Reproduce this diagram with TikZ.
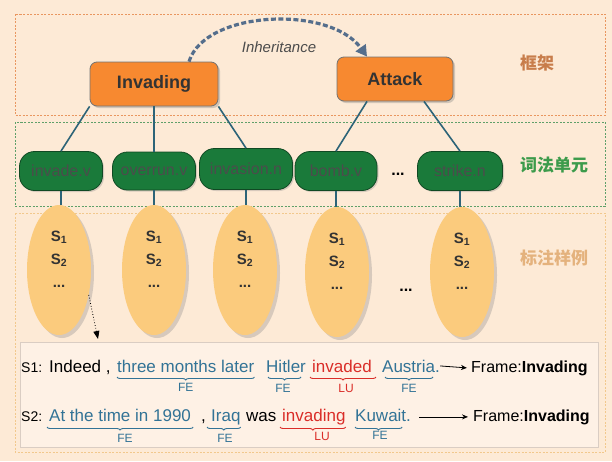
\documentclass[tikz,border=0pt]{standalone}
\usepackage{fontspec}
\setmainfont{Liberation Sans}
\newfontfamily\cjk{Noto Sans CJK SC}
\usetikzlibrary{shapes.geometric,shadows,arrows.meta,decorations.pathreplacing,positioning}

\definecolor{bgpeach}{RGB}{253,234,214}
\definecolor{boxpeach}{RGB}{254,241,229}
\definecolor{boxgray}{RGB}{218,205,195}
\definecolor{frameorange}{RGB}{247,137,48}
\definecolor{frameline}{RGB}{233,150,95}
\definecolor{lugreen}{RGB}{26,122,58}
\definecolor{lulinegreen}{RGB}{95,160,105}
\definecolor{sampleorange}{RGB}{251,203,125}
\definecolor{sampleline}{RGB}{242,200,140}
\definecolor{linkblue}{RGB}{45,100,120}
\definecolor{inhblue}{RGB}{85,110,140}
\definecolor{feblue}{RGB}{50,115,150}
\definecolor{lured}{RGB}{218,45,40}
\definecolor{framebrown}{RGB}{200,125,75}
\definecolor{lulabgreen}{RGB}{60,155,75}
\definecolor{samplabtan}{RGB}{228,178,125}

\tikzset{
  framebox/.style={draw=black!55, line width=0.8pt, fill=frameorange, rounded corners=7pt,
    inner sep=0pt, font=\fontsize{18}{20}\selectfont\bfseries, text=black!80,
    drop shadow={shadow xshift=2pt, shadow yshift=-2pt, opacity=0.35}},
  lubox/.style={draw=lugreen!60!black, line width=0.8pt, fill=lugreen, rounded corners=15pt,
    inner sep=0pt, font=\fontsize{16}{18}\selectfont, text=black!70,
    drop shadow={shadow xshift=1.5pt, shadow yshift=-1.5pt, opacity=0.3}},
  sample/.style={ellipse, fill=sampleorange, minimum width=64pt, minimum height=130pt, inner sep=0pt,
    drop shadow={shadow xshift=3pt, shadow yshift=-3pt, opacity=0.3}},
  samptext/.style={align=center, inner sep=0pt, font=\fontsize{15}{23}\selectfont\bfseries, text=black!80},
  link/.style={draw=linkblue, line width=1.6pt},
  layer/.style={anchor=west, inner sep=0pt, font=\cjk\fontsize{17}{20}\selectfont\bfseries},
  sent/.style={anchor=base west, inner sep=0pt, font=\fontsize{17}{20}\selectfont},
  febrace/.style={draw=feblue, line width=0.9pt, decorate, decoration={brace, mirror, amplitude=3pt}},
  lubrace/.style={draw=lured, line width=0.9pt, decorate, decoration={brace, mirror, amplitude=3pt}},
  felab/.style={inner sep=0pt, font=\fontsize{12}{13}\selectfont, text=feblue},
  lulab/.style={inner sep=0pt, font=\fontsize{12}{13}\selectfont, text=lured},
}

\begin{document}
\begin{tikzpicture}[x=1pt,y=-1pt]
\useasboundingbox (0,0) rectangle (612,461);
\fill[bgpeach] (0,0) rectangle (612,461);

% layers
\draw[frameline, line width=0.7pt, dash pattern=on 2pt off 1.5pt] (15,14) rectangle (605,115);
\draw[lulinegreen, line width=0.8pt, dash pattern=on 2pt off 1.5pt] (15,122) rectangle (605,206);
\draw[sampleline, line width=0.7pt, dash pattern=on 2pt off 1.5pt] (15,213) rectangle (605,452);
\draw[fill=boxpeach, draw=boxgray, line width=0.6pt] (20,342) rectangle (598,447);

\node[layer, text=framebrown] (lay1) at (520,63) {框架};
\node[layer, text=lulabgreen] (lay2) at (520,165) {词法单元};
\node[layer, text=samplabtan] (lay3) at (520,258) {标注样例};

% frames
\node[framebox, minimum width=128pt, minimum height=44pt] (inv) at (154,84) {Invading};
\node[framebox, minimum width=116pt, minimum height=44pt] (atk) at (395,79) {Attack};

\coordinate (inhs) at ([xshift=35pt]inv.north);
\coordinate (inhe) at ([xshift=-28pt]atk.north);
\draw[inhblue, line width=3.2pt, dash pattern=on 5pt off 2.5pt, -{Triangle[length=11pt,width=12pt]}]
  (inhs) .. controls (205,10) and (330,5) .. (inhe);
\node[font=\fontsize{15}{17}\selectfont\itshape, text=black!70] (inhlab) at (279,47) {Inheritance};

% lexical units
\node[lubox, minimum width=83pt, minimum height=39pt] (lu1) at (61,171) {invade.v};
\node[lubox, minimum width=83pt, minimum height=38pt] (lu2) at (154,171) {overrun.v};
\node[lubox, minimum width=93pt, minimum height=41pt] (lu3) at (246,169) {invasion.n};
\node[lubox, minimum width=82pt, minimum height=39pt] (lu4) at (336,171) {bomb.v};
\node[lubox, minimum width=85pt, minimum height=39pt] (lu5) at (460,171) {strike.n};
\node[anchor=base, font=\fontsize{16}{18}\selectfont\bfseries] (ludots) at (398,175) {...};

\draw[link] (inv.south west) -- (lu1.north);
\draw[link] (inv.south) -- (lu2.north);
\draw[link] (inv.south east) -- (lu3.north);
\draw[link] ([xshift=-28pt]atk.south) -- (lu4.north);
\draw[link] ([xshift=29pt]atk.south) -- (lu5.north);

% annotated samples
\node[sample] (e1) at (59,270) {};
\node[sample] (e2) at (154,270) {};
\node[sample] (e3) at (245,270) {};
\node[sample] (e4) at (337,272) {};
\node[sample] (e5) at (462,272) {};

\draw[link, line width=1.2pt] (lu1.south) -- (lu1.south |- e1.north);
\draw[link, line width=1.2pt] (lu2.south) -- (lu2.south |- e2.north);
\draw[link, line width=1.2pt] (lu3.south) -- (lu3.south |- e3.north);
\draw[link, line width=1.2pt] (lu4.south) -- (lu4.south |- e4.north);
\draw[link, line width=1.2pt] (lu5.south) -- (lu5.south |- e5.north);

\node[samptext] (t1) at (59,259) {S\textsubscript{1}\\S\textsubscript{2}\\...};
\node[samptext] (t2) at (154,259) {S\textsubscript{1}\\S\textsubscript{2}\\...};
\node[samptext] (t3) at (245,259) {S\textsubscript{1}\\S\textsubscript{2}\\...};
\node[samptext] (t4) at (337,261) {S\textsubscript{1}\\S\textsubscript{2}\\...};
\node[samptext] (t5) at (462,261) {S\textsubscript{1}\\S\textsubscript{2}\\...};
\node[anchor=base, font=\fontsize{16}{18}\selectfont\bfseries] (edots) at (406,291) {...};

\coordinate (zoomend) at (98,339);
\draw[black, line width=0.8pt, dotted, -{Triangle[length=8pt,width=6pt]}] (e1.-40) -- (zoomend);

% sentences
\node[sent, font=\fontsize{14}{16}\selectfont] (s1lab) at (21,372) {S1:};
\node[sent] (w1) at (49,372) {Indeed ,};
\node[sent, text=feblue] (w2) at (117,372) {three months later};
\node[sent, text=feblue] (w3) at (266,372) {Hitler};
\node[sent, text=lured] (w4) at (312,372) {invaded};
\node[sent, text=feblue] (w5) at (382,372) {Austria.};
\node[sent, font=\fontsize{16}{18}\selectfont] (f1) at (471,372) {Frame:\textbf{Invading}};
\draw[line width=0.8pt, -{Stealth[length=6pt,width=5pt]}] (w5.east) -- ([xshift=-4pt]f1.west);

\draw[febrace] ([yshift=-5pt]w2.base west) -- ([yshift=-5pt]w2.base east);
\draw[febrace] ([xshift=2pt,yshift=-5pt]w3.base west) -- ([xshift=-5pt,yshift=-5pt]w3.base east);
\draw[lubrace] ([xshift=-2pt,yshift=-5pt]w4.base west) -- ([xshift=4pt,yshift=-5pt]w4.base east);
\draw[febrace] ([xshift=3pt,yshift=-5pt]w5.base west) -- ([xshift=-7pt,yshift=-5pt]w5.base east);
\node[felab, below=11pt of w2.base] (l2) {FE};
\node[felab] (l3) at (283,388) {FE};
\node[lulab] (l4) at (346,388) {LU};
\node[felab] (l5) at (409,388) {FE};

\node[sent, font=\fontsize{14}{16}\selectfont] (s2lab) at (21,421) {S2:};
\node[sent, text=feblue] (v1) at (49,421) {At the time in 1990};
\node[sent] (v2) at (201,421) {,};
\node[sent, text=feblue] (v3) at (211,421) {Iraq};
\node[sent] (v4) at (246,421) {was};
\node[sent, text=lured] (v5) at (282,421) {invading};
\node[sent, text=feblue] (v6) at (355,421) {Kuwait.};
\node[sent, font=\fontsize{16}{18}\selectfont] (f2) at (473,421) {Frame:\textbf{Invading}};
\draw[line width=0.8pt, -{Stealth[length=6pt,width=5pt]}] ([xshift=8pt]v6.east |- f2.west) -- ([xshift=-5pt]f2.west);

\draw[febrace] ([xshift=-2pt,yshift=-6pt]v1.base west) -- ([xshift=2pt,yshift=-6pt]v1.base east);
\draw[febrace] ([xshift=-4pt,yshift=-6pt]v3.base west) -- ([yshift=-6pt]v3.base east);
\draw[lubrace] ([xshift=-2pt,yshift=-6pt]v5.base west) -- ([yshift=-6pt]v5.base east);
\draw[febrace] ([yshift=-6pt]v6.base west) -- ([xshift=-9pt,yshift=-6pt]v6.base east);
\node[felab] (m1) at (125,438) {FE};
\node[felab] (m3) at (225,438) {FE};
\node[lulab] (m5) at (322,436) {LU};
\node[felab] (m6) at (380,435) {FE};
\end{tikzpicture}
\end{document}
